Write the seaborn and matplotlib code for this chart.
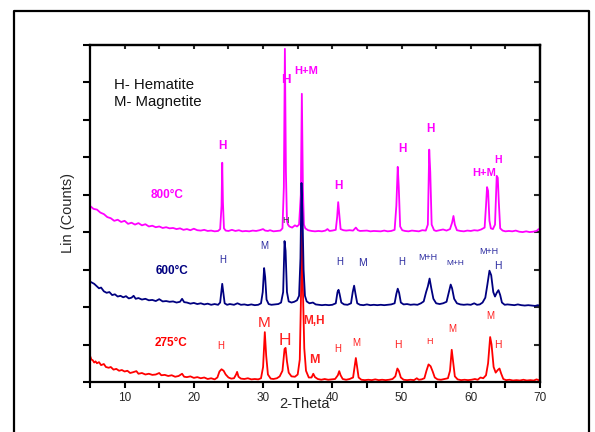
import matplotlib
matplotlib.use("Agg")
import matplotlib.pyplot as plt
import seaborn as sns
import pandas as pd
from matplotlib.lines import Line2D

# ---------------- data ----------------
x_800 = [5, 5.5, 6, 6.5, 7, 7.5, 8, 8.5, 9, 9.5, 10, 10.5, 11, 11.5, 12, 12.5, 13, 13.5, 14, 14.5,
         15, 15.5, 16, 16.5, 17, 17.5, 18, 18.5, 19, 19.5, 20, 20.5, 21, 21.5, 22, 22.5, 23, 23.5, 23.8,
         24.0, 24.1, 24.2, 24.35, 24.6, 25, 25.5, 26, 26.5, 27, 27.5, 28, 28.5, 29, 29.5, 30, 30.3, 30.7,
         31, 31.5, 32, 32.5, 32.8, 33.0, 33.15, 33.3, 33.45, 33.6, 33.8, 34.2, 34.6, 34.9, 35.2, 35.45,
         35.6, 35.75, 35.9, 36.1, 36.5, 37, 37.5, 38, 38.5, 39, 39.3, 39.6, 40, 40.5, 40.7, 40.85, 41.0,
         41.2, 41.6, 42, 42.5, 43, 43.4, 43.7, 44, 45, 45.5, 46, 47, 47.5, 48, 48.5, 49, 49.25, 49.45,
         49.6, 49.8, 50.1, 50.5, 51, 51.5, 52, 52.5, 53, 53.5, 53.8, 54.0, 54.15, 54.35, 54.7, 55, 55.5,
         56, 56.5, 57, 57.3, 57.5, 57.7, 58, 58.5, 59, 59.5, 60, 60.5, 61, 61.5, 62, 62.2, 62.35, 62.5,
         62.7, 62.9, 63.2, 63.5, 63.75, 63.9, 64.05, 64.25, 64.6, 65, 65.5, 66, 66.5, 67, 67.5, 68, 68.5,
         69, 69.5, 69.8, 70]
y_800 = [470, 462, 460, 452, 448, 440, 437, 430, 433, 427, 430, 422, 425, 420, 424, 418, 421, 415, 417, 413,
         415, 411, 413, 410, 411, 408, 410, 406, 408, 405, 409, 405, 404, 406, 403, 404, 402, 403, 408,
         470, 585, 480, 410, 404, 403, 406, 403, 405, 402, 403, 402, 404, 403, 405, 408, 404, 403,
         405, 402, 403, 404, 410, 520, 889, 560, 430, 420, 415, 412, 418, 415, 420, 500,
         769, 520, 420, 410, 405, 403, 402, 403, 402, 404, 408, 403, 404, 406, 440, 480, 450,
         408, 405, 404, 405, 404, 412, 405, 403, 404, 402, 403, 402, 404, 402, 403, 406, 470, 574,
         520, 415, 405, 403, 402, 404, 403, 402, 405, 404, 420, 620, 560, 420, 405, 403, 405,
         407, 404, 408, 425, 443, 420, 405, 403, 402, 404, 403, 405, 404, 407, 412, 470, 520, 510,
         430, 410, 408, 420, 550, 545, 480, 410, 404, 402, 403, 402, 404, 401, 400, 402, 400,
         401, 403, 408, 405]

x_600 = [5, 5.3, 5.6, 6, 6.3, 6.6, 7, 7.4, 7.8, 8.2, 8.6, 9, 9.4, 9.8, 10.2, 10.6, 11, 11.3, 11.6, 12,
         12.5, 13, 13.5, 14, 14.5, 15, 15.5, 16, 16.5, 17, 17.5, 18, 18.3, 18.6, 19, 19.5, 20, 20.5, 21,
         21.5, 22, 22.5, 23, 23.5, 23.8, 24.0, 24.1, 24.25, 24.45, 24.8, 25.2, 25.8, 26.3, 26.8, 27.3,
         27.8, 28.3, 28.8, 29.3, 29.7, 29.95, 30.15, 30.3, 30.5, 30.8, 31.2, 31.7, 32.2, 32.6, 32.9, 33.1,
         33.25, 33.45, 33.7, 34.1, 34.5, 34.9, 35.2, 35.4, 35.55, 35.7, 35.85, 36.05, 36.3, 36.7, 37.2,
         37.6, 38, 38.5, 39, 39.5, 40, 40.5, 40.75, 40.9, 41.05, 41.3, 41.7, 42.2, 42.7, 42.95, 43.15,
         43.35, 43.6, 44, 44.5, 45, 45.5, 46, 46.5, 47, 47.5, 48, 48.5, 49, 49.25, 49.45, 49.65, 49.9,
         50.3, 50.8, 51.3, 51.8, 52.3, 52.8, 53.2, 53.55, 53.8, 54.05, 54.3, 54.6, 55, 55.5, 56, 56.5,
         56.9, 57.1, 57.3, 57.6, 58, 58.5, 59, 59.5, 60, 60.5, 60.9, 61.3, 61.7, 62.1, 62.4, 62.7, 62.95,
         63.25, 63.5, 63.75, 64.0, 64.25, 64.5, 64.9, 65.3, 65.8, 66.3, 66.8, 67.3, 67.8, 68.3, 68.8,
         69.3, 69.7, 70]
y_600 = [268, 265, 262, 255, 250, 252, 242, 238, 240, 232, 234, 228, 230, 226, 229, 223, 225, 230, 222, 224,
         220, 222, 218, 219, 216, 221, 215, 216, 214, 215, 212, 214, 222, 213, 212, 209, 211, 208, 210,
         207, 209, 206, 208, 206, 212, 245, 262, 240, 210, 206, 208, 206, 210, 206, 207,
         205, 207, 205, 206, 210, 240, 304, 280, 220, 208, 206, 207, 208, 212, 240, 376,
         350, 240, 215, 212, 214, 218, 230, 330, 531, 440, 300, 230, 215, 210, 212,
         207, 206, 205, 206, 205, 206, 210, 240, 246, 235, 212, 207, 206, 210, 240, 257,
         235, 210, 206, 205, 207, 205, 206, 205, 206, 205, 206, 207, 210, 235, 249, 238, 212,
         207, 208, 206, 207, 206, 210, 215, 240, 255, 276, 250, 222, 210, 208, 210, 214,
         245, 260, 250, 222, 210, 207, 206, 207, 206, 210, 206, 207, 212, 225, 260, 297, 285,
         240, 228, 238, 245, 232, 212, 206, 207, 206, 205, 207, 205, 204, 205, 204,
         203, 205, 203]

x_275 = [5, 5.2, 5.4, 5.6, 5.8, 6, 6.3, 6.6, 7, 7.3, 7.7, 8, 8.4, 8.8, 9.2, 9.6, 10, 10.4, 10.8, 11.2,
         11.7, 12, 12.5, 13, 13.5, 14, 14.5, 15, 15.3, 15.8, 16.3, 16.8, 17.3, 17.8, 18.3, 18.6, 19, 19.5,
         20, 20.5, 21, 21.5, 22, 22.5, 23, 23.4, 23.7, 24, 24.3, 24.6, 25, 25.4, 25.8, 26.1, 26.25, 26.45,
         26.8, 27.3, 27.8, 28.3, 28.8, 29.3, 29.7, 30, 30.25, 30.45, 30.7, 31.1, 31.5, 32, 32.4, 32.8,
         33.1, 33.25, 33.45, 33.7, 34.1, 34.6, 35, 35.3, 35.5, 35.6, 35.75, 35.95, 36.2, 36.6, 37, 37.25,
         37.5, 37.9, 38.4, 38.9, 39.4, 39.9, 40.4, 40.8, 41, 41.2, 41.5, 42, 42.5, 43, 43.25, 43.4, 43.55,
         43.8, 44.2, 44.7, 45.2, 45.7, 46.2, 46.7, 47.2, 47.7, 48.2, 48.7, 49.1, 49.4, 49.6, 49.9, 50.3,
         50.8, 51.3, 51.8, 52.2, 52.5, 52.9, 53.3, 53.6, 53.9, 54.2, 54.5, 54.8, 55.2, 55.7, 56.2, 56.7,
         57.0, 57.25, 57.45, 57.7, 58.1, 58.6, 59.1, 59.6, 60.1, 60.6, 61, 61.4, 61.8, 62.2, 62.5, 62.8,
         63.0, 63.3, 63.6, 63.9, 64.15, 64.4, 64.7, 65.1, 65.6, 66.1, 66.6, 67.1, 67.6, 68.1, 68.6, 69.1,
         69.5, 69.8, 70]
y_275 = [70, 60, 58, 52, 55, 50, 53, 45, 48, 40, 38, 40, 33, 35, 30, 32, 28, 30, 24, 26,
         29, 22, 24, 20, 22, 19, 20, 24, 18, 19, 16, 18, 14, 16, 22, 14, 13, 15,
         11, 13, 10, 12, 8, 10, 7, 12, 28, 34, 30, 20, 12, 9, 10, 20, 27, 14,
         9, 8, 10, 7, 8, 7, 10, 40, 133, 70, 20, 9, 8, 10, 15, 30,
         88, 91, 55, 25, 15, 14, 20, 60, 250, 420, 250, 90, 30, 12, 12, 22,
         13, 8, 6, 8, 6, 7, 8, 18, 29, 18, 8, 6, 8, 12, 45, 64, 45,
         12, 6, 5, 6, 5, 7, 5, 6, 5, 6, 8, 15, 36, 30, 12, 6,
         5, 6, 5, 10, 6, 7, 10, 30, 47, 42, 28, 12, 7, 6, 8, 10,
         30, 86, 55, 15, 7, 5, 6, 5, 6, 8, 6, 12, 10, 18, 50, 120,
         100, 40, 25, 32, 36, 22, 8, 5, 6, 4, 5, 4, 6, 4, 5, 4,
         7, 5, 6]

series_names = ["800°C", "275°C", "600°C"]
series_colors = ["#FF00FF", "#FF0000", "#000080"]

x_ticks = [5, 10, 15, 20, 25, 30, 35, 40, 45, 50, 55, 60, 65, 70]
x_tick_labels = ["" if t % 10 else str(t) for t in x_ticks]
y_ticks = [0, 100, 200, 300, 400, 500, 600, 700, 800, 900]

# annotations: (text, x, y, colour, size, weight)
peak_labels = [
    ("H", 24.07, 629, "#FF00FF", 8.5, "bold"),
    ("H", 33.31, 805, "#FF00FF", 9.5, "bold"),
    ("H+M", 36.2, 829, "#FF00FF", 8, "bold"),
    ("H", 40.82, 523, "#FF00FF", 8.5, "bold"),
    ("H", 50.07, 621, "#FF00FF", 8.5, "bold"),
    ("H", 54.11, 675, "#FF00FF", 8.5, "bold"),
    ("H+M", 61.91, 557, "#FF00FF", 8, "bold"),
    ("H", 63.93, 592, "#FF00FF", 7.5, "bold"),
    ("H", 33.17, 432, "#333333", 6.5, "normal"),
    ("H", 24.21, 325, "#2B2BA0", 7, "normal"),
    ("M", 30.13, 363, "#2B2BA0", 7, "normal"),
    ("H", 41.11, 320, "#2B2BA0", 7, "normal"),
    ("M", 44.29, 317, "#2B2BA0", 7.5, "normal"),
    ("H", 50.07, 320, "#2B2BA0", 7, "normal"),
    ("M+H", 53.82, 333, "#2B2BA0", 6.5, "normal"),
    ("M+H", 57.72, 315, "#2B2BA0", 6, "normal"),
    ("M+H", 62.63, 349, "#2B2BA0", 6.5, "normal"),
    ("H", 63.93, 309, "#2B2BA0", 7.5, "normal"),
    ("H", 23.92, 96, "#FF2020", 7, "normal"),
    ("M", 30.13, 157, "#FF2020", 11, "normal"),
    ("H", 33.17, 112, "#FF2020", 12.5, "normal"),
    ("M,H", 37.36, 163, "#FF2020", 8.5, "bold"),
    ("M", 37.36, 59, "#FF2020", 9, "bold"),
    ("H", 40.82, 88, "#FF2020", 7, "normal"),
    ("M", 43.42, 104, "#FF2020", 7, "normal"),
    ("H", 49.49, 99, "#FF2020", 7.5, "normal"),
    ("H", 54.11, 107, "#FF2020", 6.5, "normal"),
    ("M", 57.29, 141, "#FF2020", 7, "normal"),
    ("M", 62.78, 176, "#FF2020", 7, "normal"),
    ("H", 63.93, 99, "#FF2020", 7.5, "normal"),
]
temp_labels = [("800°C", 16.1, 499, "#FF00FF"),
               ("600°C", 16.8, 296, "#000080"),
               ("275°C", 16.7, 104, "#FF0000")]
legend_lines = ["H- Hematite", "M- Magnetite"]

# ---------------- plotting ----------------
sns.set_style("white")
plt.rcParams["font.family"] = ["Liberation Sans", "DejaVu Sans"]

fig = plt.figure(figsize=(5.95, 4.32), dpi=100)
ax = fig.add_axes([90 / 595, 1 - 382 / 432, 450 / 595, (382 - 44.7) / 432])

traces = {"800°C": (x_800, y_800), "275°C": (x_275, y_275), "600°C": (x_600, y_600)}
for name, col in zip(series_names, series_colors):
    xs, ys = traces[name]
    df = pd.DataFrame({"two_theta": xs, "counts": ys})
    sns.lineplot(data=df, x="two_theta", y="counts", ax=ax, color=col,
                 linewidth=1.3, estimator=None, sort=False)

ax.set_xlim(5, 70)
ax.set_ylim(0, 900)
ax.set_xticks(x_ticks)
ax.set_xticklabels(x_tick_labels, fontsize=8.5)
ax.set_yticks(y_ticks)
ax.set_yticklabels([""] * len(y_ticks))
ax.set_xlabel("2-Theta", fontsize=10.5)
ax.xaxis.set_label_coords(0.476, -0.045)
ax.set_ylabel("Lin (Counts)", fontsize=10.5, labelpad=2)

for sp in ax.spines.values():
    sp.set_color("black")
    sp.set_linewidth(1.6)

ax.tick_params(axis="x", which="major", bottom=True, top=False, direction="out",
               length=4, width=1.5, color="black", pad=3)
ax.tick_params(axis="y", which="major", left=True, right=False, direction="out",
               length=5, width=1.5, color="black")

# inward ticks on top and right
axt = ax.secondary_xaxis("top")
axt.set_xticks(x_ticks)
axt.set_xticklabels([])
axt.tick_params(direction="in", length=3, width=1.5)
axr = ax.secondary_yaxis("right")
axr.set_yticks(y_ticks)
axr.set_yticklabels([])
axr.tick_params(direction="in", length=4, width=1.5)
for a in (axt, axr):
    for sp in a.spines.values():
        sp.set_linewidth(1.6)

for txt, x, y, c, s, w in peak_labels:
    ax.text(x, y, txt, color=c, fontsize=s, fontweight=w, ha="center", va="center")
for txt, x, y, c in temp_labels:
    ax.text(x, y, txt, color=c, fontsize=8.5, fontweight="bold", ha="center", va="center")
ax.text(8.47, 792, legend_lines[0], fontsize=10.8, ha="left", va="center", color="#111111")
ax.text(8.47, 747, legend_lines[1], fontsize=10.8, ha="left", va="center", color="#111111")

# outer frame (left, top, right)
W, H = 595, 432
fx = [14 / W, 14 / W, 589 / W, 589 / W]
fy = [-0.05, 1 - 11 / H, 1 - 11 / H, -0.05]
fig.add_artist(Line2D(fx, fy, transform=fig.transFigure, color="black", linewidth=1.6))

fig.savefig("out.png", dpi=100)
